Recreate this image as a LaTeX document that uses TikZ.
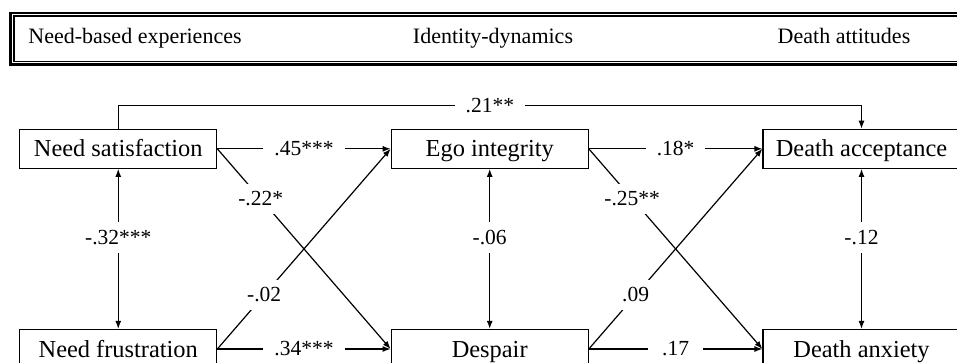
\documentclass[tikz,border=0pt]{standalone}
\usepackage{fontspec}
\setmainfont{Liberation Serif}
\usetikzlibrary{arrows.meta}

\begin{document}
\begin{tikzpicture}[x=1pt,y=-1pt,
    box/.style={draw, line width=1.2pt, minimum width=197pt, minimum height=39pt,
      text height=16pt, text depth=0pt, inner sep=0pt, font=\fontsize{24.4}{28}\selectfont},
    coef/.style={fill=white, inner xsep=11pt, inner ysep=8pt, font=\fontsize{21.5}{25}\selectfont},
    head/.style={anchor=base, font=\fontsize{22}{26}\selectfont},
    path/.style={line width=1.2pt, -{Latex[length=8pt,width=6pt]}},
    both/.style={line width=1.2pt, {Latex[length=8pt,width=6pt]}-{Latex[length=8pt,width=6pt]}}]
	\useasboundingbox (0,0) rectangle (957,363);
	\clip (0,0) rectangle (957,363);
	% header band
	\draw[line width=2.7pt] (10.7,13) rectangle (975,64.7);
	\draw[line width=1.3pt] (14,16) rectangle (975,61.2);
	\node[head] (hneed) at (135,44) {Need-based experiences};
	\node[head] (hiden) at (493,44) {Identity-dynamics};
	\node[head] (hdeath) at (844,44) {Death attitudes};
	% variables
	\node[box] (nsat) at (118.25,148.8) {Need satisfaction};
	\node[box] (ego) at (489.7,148.8) {Ego integrity};
	\node[box] (dacc) at (861.5,148.8) {Death acceptance};
	\node[box] (nfru) at (118.25,349) {Need frustration};
	\node[box] (desp) at (489.7,349) {Despair};
	\node[box] (danx) at (861.5,349) {Death anxiety};
	% paths
	\draw[path] (nsat.north) -- ++(0,-23) -| node[coef, pos=0.25] {.21**} (dacc.north);
	\draw[path] (nsat.east) -- node[coef] {.45***} (ego.west);
	\draw[path] (nsat.east) -- node[coef, pos=0.25] {-.22*} (desp.west);
	\draw[path] (nfru.east) -- node[coef, pos=0.27] {-.02} (ego.west);
	\draw[path] (nfru.east) -- node[coef] {.34***} (desp.west);
	\draw[path] (ego.east) -- node[coef] {.18*} (dacc.west);
	\draw[path] (ego.east) -- node[coef, pos=0.25] {-.25**} (danx.west);
	\draw[path] (desp.east) -- node[coef, pos=0.27] {.09} (dacc.west);
	\draw[path] (desp.east) -- node[coef, inner xsep=14pt] {.17} (danx.west);
	% covariances
	\draw[both] (nsat.south) -- node[coef, pos=0.43] {-.32***} (nfru.north);
	\draw[both] (ego.south) -- node[coef, pos=0.43] {-.06} (desp.north);
	\draw[both] (dacc.south) -- node[coef, pos=0.43] {-.12} (danx.north);
\end{tikzpicture}
\end{document}
